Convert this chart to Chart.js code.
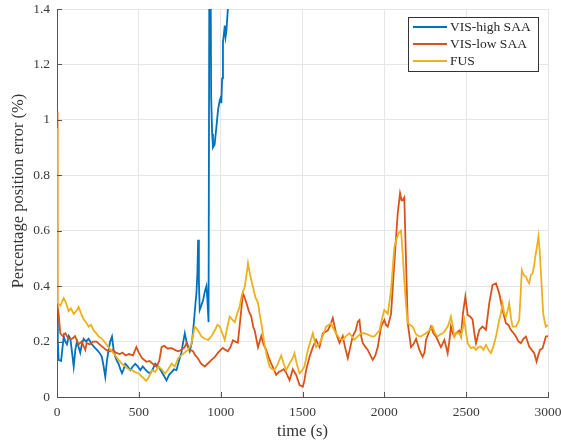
<!DOCTYPE html>
<html>
<head>
<meta charset="utf-8">
<script src="https://cdn.jsdelivr.net/npm/chart.js@4.4.1/dist/chart.umd.min.js"></script>
<style>
  html, body { margin: 0; padding: 0; background: #fff; }
  #wrap { width: 561px; height: 442px; }
</style>
</head>
<body>
<div id="wrap"><canvas id="myChart" width="561" height="442"></canvas></div>
<script>
// axis ticks
var xTicks = [0, 500, 1000, 1500, 2000, 2500, 3000];
var xTickLabels = ['0', '500', '1000', '1500', '2000', '2500', '3000'];
var yTicks = [0, 0.2, 0.4, 0.6, 0.8, 1, 1.2, 1.4];
var yTickLabels = ['0', '0.2', '0.4', '0.6', '0.8', '1', '1.2', '1.4'];

var seriesNames = ['VIS-high SAA', 'VIS-low SAA', 'FUS'];
var yTitle = 'Percentage position error (%)';
var xTitle = 'time (s)';

// VIS-high SAA (diverges after ~930 s)
var highTime = [0, 5, 10, 25, 41, 51, 61, 72, 82, 92, 102, 112, 122, 132, 142, 152, 163, 178, 193, 203,
  213, 228, 244, 259, 274, 285, 295, 305, 315, 325, 336, 346, 356, 366, 376, 387, 397, 407, 417, 432,
  448, 463, 478, 494, 509, 524, 539, 555, 570, 585, 600, 620, 640, 655, 669, 685, 700, 715, 730, 745,
  760, 770, 781, 791, 811, 825, 835, 845, 852, 858, 862, 867, 872, 882, 893, 903, 913, 918, 926, 931,
  937, 942, 948, 953, 963, 974, 984, 994, 1000, 1004, 1009, 1014, 1020, 1025, 1030, 1035, 1045, 1050];
var highValue = [0.30, 0.20, 0.134, 0.13, 0.218, 0.20, 0.19, 0.22, 0.21, 0.16, 0.11, 0.17, 0.20, 0.18, 0.16, 0.19, 0.21, 0.20, 0.21, 0.20,
  0.19, 0.18, 0.17, 0.16, 0.145, 0.11, 0.073, 0.13, 0.17, 0.20, 0.218, 0.17, 0.145, 0.13, 0.12, 0.10, 0.086, 0.10, 0.12, 0.11,
  0.097, 0.11, 0.12, 0.11, 0.097, 0.11, 0.10, 0.09, 0.085, 0.10, 0.12, 0.11, 0.09, 0.075, 0.06, 0.08, 0.09, 0.10, 0.097, 0.13,
  0.16, 0.195, 0.23, 0.20, 0.165, 0.20, 0.26, 0.33, 0.375, 0.45, 0.567, 0.42, 0.314, 0.33, 0.35, 0.38, 0.40, 0.36, 0.27, 1.6,
  1.7, 1.08, 0.95, 0.90, 0.91, 0.975, 1.036, 1.07, 1.08, 1.06, 1.15, 1.28, 1.31, 1.34, 1.30, 1.32, 1.41, 1.5];

// VIS-low SAA
var lowTime = [0, 3, 10, 20, 35, 51, 70, 92, 110, 132, 150, 173, 181, 200, 220, 242, 260, 280, 300, 323,
  340, 360, 384, 400, 420, 440, 464, 485, 500, 520, 546, 565, 585, 607, 625, 639, 655, 675, 700, 720,
  740, 760, 780, 791, 800, 811, 831, 845, 861, 880, 903, 920, 944, 965, 984, 1000, 1013, 1030, 1044, 1060,
  1075, 1090, 1105, 1120, 1136, 1146, 1157, 1172, 1187, 1200, 1208, 1228, 1248, 1262, 1278, 1295, 1309, 1325, 1339, 1355,
  1370, 1385, 1400, 1421, 1441, 1461, 1482, 1502, 1512, 1522, 1543, 1563, 1583, 1604, 1624, 1640, 1655, 1670, 1685, 1705,
  1726, 1746, 1760, 1777, 1792, 1807, 1825, 1838, 1848, 1858, 1868, 1885, 1899, 1915, 1929, 1945, 1960, 1980, 2000, 2010,
  2021, 2041, 2061, 2082, 2096, 2105, 2112, 2122, 2133, 2143, 2163, 2178, 2194, 2214, 2234, 2245, 2255, 2270, 2285, 2300,
  2316, 2330, 2346, 2367, 2387, 2397, 2407, 2418, 2428, 2438, 2458, 2468, 2480, 2495, 2509, 2525, 2539, 2550, 2560, 2580,
  2600, 2621, 2641, 2661, 2682, 2702, 2722, 2743, 2758, 2773, 2790, 2804, 2820, 2834, 2850, 2865, 2885, 2900, 2916, 2930,
  2940, 2951, 2967, 2987, 3000];
var lowValue = [1.03, 0.33, 0.30, 0.23, 0.22, 0.23, 0.21, 0.21, 0.22, 0.19, 0.20, 0.17, 0.195, 0.19, 0.20, 0.20, 0.19, 0.18, 0.17, 0.164,
  0.17, 0.16, 0.155, 0.16, 0.15, 0.155, 0.15, 0.18, 0.16, 0.14, 0.127, 0.13, 0.12, 0.11, 0.13, 0.18, 0.185, 0.175, 0.176, 0.17,
  0.165, 0.17, 0.18, 0.195, 0.18, 0.17, 0.165, 0.15, 0.14, 0.12, 0.11, 0.12, 0.134, 0.145, 0.16, 0.17, 0.177, 0.17, 0.165, 0.18,
  0.205, 0.20, 0.196, 0.28, 0.374, 0.36, 0.34, 0.31, 0.29, 0.25, 0.24, 0.18, 0.22, 0.19, 0.17, 0.14, 0.12, 0.10, 0.08, 0.09,
  0.095, 0.10, 0.088, 0.061, 0.10, 0.08, 0.043, 0.037, 0.06, 0.097, 0.145, 0.18, 0.206, 0.18, 0.23, 0.235, 0.24, 0.26, 0.285, 0.23,
  0.195, 0.22, 0.18, 0.14, 0.18, 0.22, 0.24, 0.272, 0.278, 0.22, 0.195, 0.18, 0.17, 0.15, 0.134, 0.15, 0.18, 0.254, 0.278, 0.26,
  0.254, 0.30, 0.483, 0.664, 0.735, 0.71, 0.71, 0.72, 0.48, 0.267, 0.18, 0.19, 0.21, 0.17, 0.145, 0.16, 0.206, 0.23, 0.254, 0.23,
  0.218, 0.20, 0.18, 0.206, 0.158, 0.20, 0.254, 0.23, 0.218, 0.23, 0.24, 0.22, 0.30, 0.362, 0.296, 0.29, 0.28, 0.23, 0.194, 0.242,
  0.254, 0.242, 0.338, 0.404, 0.41, 0.374, 0.314, 0.266, 0.26, 0.242, 0.23, 0.218, 0.20, 0.194, 0.21, 0.218, 0.182, 0.17, 0.158, 0.128,
  0.15, 0.17, 0.176, 0.218, 0.22];

// FUS
var fusTime = [0, 3, 20, 41, 55, 71, 85, 102, 118, 132, 148, 163, 178, 193, 208, 224, 240, 254, 275, 295,
  315, 336, 356, 376, 397, 417, 437, 458, 478, 498, 515, 529, 545, 560, 580, 600, 620, 640, 660, 680,
  700, 720, 740, 760, 780, 800, 820, 842, 862, 883, 903, 924, 944, 964, 980, 995, 1010, 1025, 1040, 1055,
  1070, 1086, 1100, 1116, 1130, 1147, 1160, 1167, 1180, 1197, 1212, 1228, 1238, 1250, 1268, 1283, 1299, 1315, 1329, 1350,
  1370, 1385, 1400, 1420, 1440, 1451, 1465, 1482, 1497, 1512, 1533, 1548, 1563, 1583, 1600, 1614, 1630, 1644, 1660, 1675,
  1695, 1716, 1730, 1746, 1766, 1787, 1800, 1817, 1838, 1858, 1878, 1900, 1920, 1939, 1955, 1970, 1985, 2000, 2021, 2041,
  2061, 2075, 2086, 2102, 2112, 2122, 2133, 2143, 2158, 2173, 2194, 2210, 2224, 2240, 2255, 2275, 2295, 2310, 2326, 2340,
  2356, 2372, 2387, 2397, 2407, 2420, 2428, 2438, 2458, 2468, 2480, 2489, 2500, 2509, 2529, 2545, 2560, 2575, 2590, 2605,
  2621, 2636, 2651, 2665, 2682, 2702, 2712, 2722, 2733, 2743, 2753, 2763, 2775, 2784, 2804, 2824, 2832, 2840, 2852, 2865,
  2875, 2885, 2895, 2906, 2914, 2922, 2932, 2942, 2950, 2956, 2964, 2971, 2980, 2987, 3000];
var fusValue = [0.97, 0.34, 0.33, 0.357, 0.34, 0.31, 0.32, 0.30, 0.31, 0.325, 0.30, 0.28, 0.27, 0.254, 0.26, 0.24, 0.23, 0.218, 0.21, 0.195,
  0.18, 0.164, 0.15, 0.134, 0.12, 0.11, 0.10, 0.097, 0.09, 0.086, 0.075, 0.068, 0.058, 0.07, 0.097, 0.09, 0.11, 0.10, 0.085, 0.10,
  0.12, 0.11, 0.14, 0.15, 0.16, 0.17, 0.19, 0.254, 0.24, 0.218, 0.21, 0.206, 0.22, 0.24, 0.26, 0.254, 0.23, 0.206, 0.25, 0.29,
  0.28, 0.27, 0.30, 0.326, 0.37, 0.398, 0.45, 0.483, 0.44, 0.398, 0.36, 0.34, 0.30, 0.26, 0.19, 0.145, 0.11, 0.10, 0.097, 0.12,
  0.15, 0.12, 0.097, 0.12, 0.14, 0.158, 0.12, 0.086, 0.095, 0.11, 0.17, 0.20, 0.23, 0.18, 0.19, 0.206, 0.23, 0.254, 0.26, 0.266,
  0.24, 0.22, 0.21, 0.206, 0.22, 0.23, 0.22, 0.206, 0.22, 0.23, 0.23, 0.225, 0.22, 0.218, 0.23, 0.24, 0.28, 0.314, 0.30, 0.386,
  0.54, 0.57, 0.59, 0.60, 0.52, 0.42, 0.33, 0.267, 0.26, 0.254, 0.226, 0.22, 0.218, 0.225, 0.23, 0.24, 0.254, 0.23, 0.218, 0.225,
  0.23, 0.24, 0.254, 0.27, 0.29, 0.25, 0.218, 0.23, 0.23, 0.218, 0.25, 0.278, 0.23, 0.194, 0.176, 0.18, 0.17, 0.18, 0.182, 0.17,
  0.188, 0.17, 0.158, 0.18, 0.218, 0.278, 0.30, 0.338, 0.30, 0.29, 0.31, 0.338, 0.28, 0.254, 0.254, 0.278, 0.36, 0.458, 0.44, 0.434,
  0.42, 0.41, 0.44, 0.446, 0.47, 0.506, 0.54, 0.58, 0.52, 0.458, 0.37, 0.30, 0.27, 0.254, 0.26];

var seriesColors = ['#0072BD', '#D95319', '#EDB120'];

function toPoints(ts, vs) {
    var pts = [];
    for (var i = 0; i < ts.length; i++) pts.push({x: ts[i], y: vs[i]});
    return pts;
}

var serif = "'Liberation Serif', 'DejaVu Serif', serif";

// inward tick marks like matlab
var innerTicks = {
    id: 'innerTicks',
    afterDatasetsDraw: function(chart) {
        var c = chart.ctx, a = chart.chartArea;
        var xs = chart.scales.x, ys = chart.scales.y;
        c.save();
        c.strokeStyle = '#555';
        c.lineWidth = 1;
        c.beginPath();
        xTicks.forEach(function(v) {
            var px = Math.round(xs.getPixelForValue(v)) + 0.5;
            c.moveTo(px, a.bottom); c.lineTo(px, a.bottom - 5);
        });
        yTicks.forEach(function(v) {
            var py = Math.round(ys.getPixelForValue(v)) + 0.5;
            c.moveTo(a.left, py); c.lineTo(a.left + 5, py);
        });
        c.stroke();
        c.restore();
    }
};

// boxed legend inside the plot (top right) + y title
var boxLegend = {
    id: 'boxLegend',
    afterDraw: function(chart) {
        var c = chart.ctx;
        var bx = 408.5, by = 17.5, bw = 130, bh = 54;
        c.save();
        c.fillStyle = '#fff';
        c.fillRect(bx, by, bw, bh);
        c.strokeStyle = '#333';
        c.lineWidth = 1;
        c.strokeRect(bx, by, bw, bh);
        c.font = '13.5px ' + serif;
        c.textBaseline = 'middle';
        chart.data.datasets.forEach(function(ds, i) {
            var y = 27 + i * 17;
            c.strokeStyle = ds.borderColor;
            c.lineWidth = 2;
            c.beginPath();
            c.moveTo(413, y); c.lineTo(447, y);
            c.stroke();
            c.fillStyle = '#262626';
            c.fillText(ds.label, 450, y + 0.5);
        });
        // y axis title (matlab puts it a bit above centre)
        c.translate(19, 191);
        c.rotate(-Math.PI / 2);
        c.textAlign = 'center';
        c.fillStyle = '#333';
        c.font = '16.5px ' + serif;
        c.fillText(yTitle, 0, 0);
        c.restore();
    }
};

var ctx = document.getElementById('myChart').getContext('2d');
var myChart = new Chart(ctx, {
    type: 'line',
    data: {
        datasets: [
            {label: seriesNames[0], data: toPoints(highTime, highValue), borderColor: seriesColors[0], order: 3},
            {label: seriesNames[1], data: toPoints(lowTime, lowValue), borderColor: seriesColors[1], order: 2},
            {label: seriesNames[2], data: toPoints(fusTime, fusValue), borderColor: seriesColors[2], order: 1}
        ]
    },
    options: {
        responsive: false,
        animation: false,
        devicePixelRatio: 1,
        layout: {padding: {left: 0, top: 9, right: 13, bottom: 0}},
        elements: {
            line: {borderWidth: 1.8, tension: 0, fill: false},
            point: {radius: 0, hoverRadius: 0}
        },
        plugins: {legend: {display: false}, tooltip: {enabled: false}},
        scales: {
            x: {
                type: 'linear', min: 0, max: 3000,
                afterBuildTicks: function(s) { s.ticks = xTicks.map(function(v) { return {value: v}; }); },
                afterFit: function(s) { s.height = 45; s.paddingLeft = 0; s.paddingRight = 0; },
                grid: {color: '#e6e6e6', drawTicks: false},
                border: {color: '#555', width: 1},
                ticks: {
                    color: '#3a3a3a', padding: 7, maxRotation: 0, autoSkip: false,
                    font: {family: serif, size: 13.5},
                    callback: function(v) { return xTickLabels[xTicks.indexOf(v)]; }
                },
                title: {display: true, text: xTitle, color: '#333', font: {family: serif, size: 16.5}, padding: {top: 0, bottom: 0}}
            },
            y: {
                type: 'linear', min: 0, max: 1.4,
                afterBuildTicks: function(s) { s.ticks = yTicks.map(function(v) { return {value: v}; }); },
                afterFit: function(s) { s.width = 57; s.paddingTop = 0; s.paddingBottom = 0; },
                grid: {color: '#e6e6e6', drawTicks: false},
                border: {color: '#555', width: 1},
                ticks: {
                    color: '#3a3a3a', padding: 7,
                    font: {family: serif, size: 13.5},
                    callback: function(v) {
                        for (var i = 0; i < yTicks.length; i++) if (Math.abs(yTicks[i] - v) < 1e-9) return yTickLabels[i];
                        return '';
                    }
                }
            }
        }
    },
    plugins: [innerTicks, boxLegend]
});
</script>
</body>
</html>
